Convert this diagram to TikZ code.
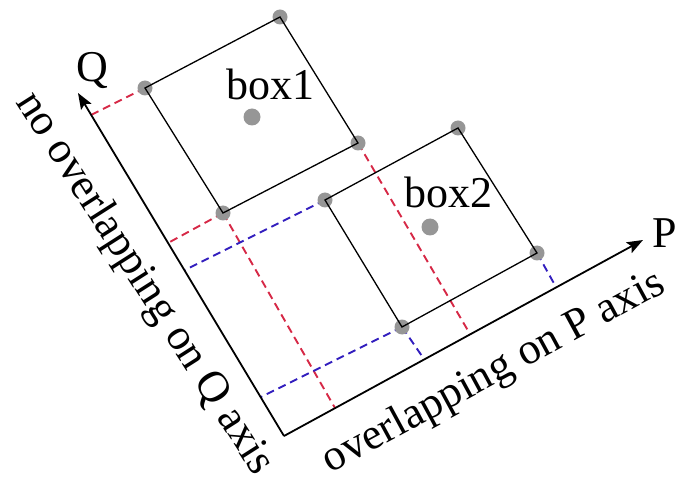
\documentclass[tikz,border=0pt]{standalone}
\usepackage{fontspec}
\setmainfont{Liberation Serif}
\usetikzlibrary{arrows.meta}
\definecolor{dred}{RGB}{214,40,70}
\definecolor{dblue}{RGB}{50,30,190}
\definecolor{dotgray}{RGB}{150,150,150}
\tikzset{
  boxline/.style={draw=black, line width=1.3pt, line join=miter},
  axisline/.style={draw=black, line width=1.8pt, -{Stealth[length=16pt,width=12pt,inset=3pt]}},
  reddash/.style={draw=dred, line width=1.9pt, dash pattern=on 8pt off 5pt},
  bluedash/.style={draw=dblue, line width=1.9pt, dash pattern=on 8pt off 5pt},
  corner/.style={circle, fill=dotgray, inner sep=0pt, minimum size=15pt},
  centre/.style={circle, fill=dotgray, inner sep=0pt, minimum size=17pt},
  lbl/.style={font=\fontsize{44}{50}\selectfont, inner sep=0pt}
}
\begin{document}
\begin{tikzpicture}[x=1pt, y=-1pt]
\useasboundingbox (0,0) rectangle (683,481);
% axes
\coordinate (O) at (284,436);
\coordinate (Ptip) at (643,240);
\coordinate (Qtip) at (78,93);
% box1 corners
\coordinate (b1l) at (145,88);
\coordinate (b1t) at (280,17);
\coordinate (b1r) at (358,143);
\coordinate (b1b) at (223,213);
% box2 corners
\coordinate (b2l) at (325,200);
\coordinate (b2t) at (458,128);
\coordinate (b2r) at (537,253);
\coordinate (b2b) at (402,327);
% ticks on axes
\coordinate (q1) at (91,115);
\coordinate (q2) at (168,243);
\coordinate (q3) at (185,270);
\coordinate (q4) at (261,397);
\coordinate (p1) at (335,408);
\coordinate (p2) at (424,359);
\coordinate (p3) at (470,334);
\coordinate (p4) at (556,287);
% dashed projections
\draw[reddash] (b1l) -- (q1);
\draw[reddash] (b1b) -- (q2);
\draw[reddash] (b1b) -- (p1);
\draw[reddash] (b1r) -- (p3);
\draw[bluedash] (b2l) -- (q3);
\draw[bluedash] (b2b) -- (q4);
\draw[bluedash] (b2b) -- (p2);
\draw[bluedash] (b2r) -- (p4);
% dots
\node[corner] (d1l) at (b1l) {};
\node[corner] (d1t) at (b1t) {};
\node[corner] (d1r) at (b1r) {};
\node[corner] (d1b) at (b1b) {};
\node[corner] (d2l) at (b2l) {};
\node[corner] (d2t) at (b2t) {};
\node[corner] (d2r) at (b2r) {};
\node[corner] (d2b) at (b2b) {};
\node[centre] (c1) at (252,117) {};
\node[centre] (c2) at (430,227) {};
% boxes
\draw[boxline] (b1l) -- (b1t) -- (b1r) -- (b1b) -- cycle;
\draw[boxline] (b2l) -- (b2t) -- (b2r) -- (b2b) -- cycle;
% axes
\draw[axisline] (O) -- (Ptip);
\draw[axisline] (O) -- (Qtip);
% labels
\node[lbl, anchor=base] (lQ) at (92,82) {Q};
\node[lbl, anchor=base] (lP) at (665,248) {P};
\node[lbl, anchor=base] (lb1) at (270,100) {box1};
\node[lbl, anchor=base] (lb2) at (448,208) {box2};
\node[lbl, rotate=-57.5] (tq) at (144,284) {no overlapping on Q axis};
\node[lbl, rotate=28.5] (tp) at (494,373) {overlapping on P axis};
\end{tikzpicture}
\end{document}
